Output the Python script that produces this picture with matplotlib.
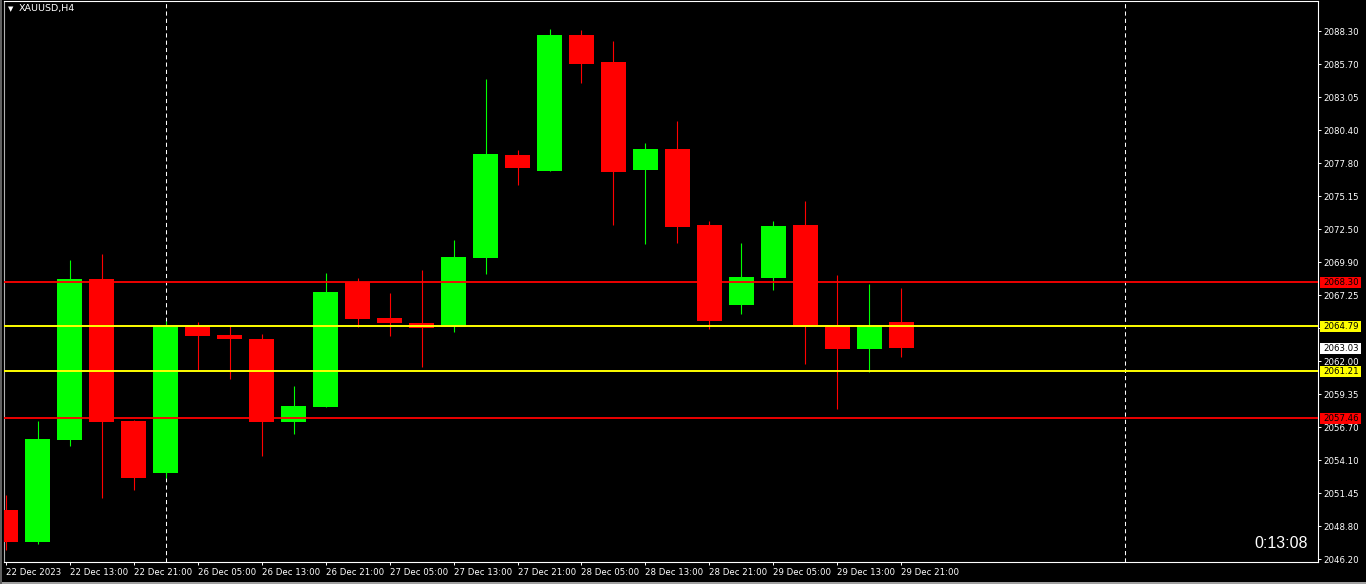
import numpy as np
import matplotlib
matplotlib.use("Agg")
import matplotlib.pyplot as plt
from matplotlib.patches import Rectangle

# ---------------- data ----------------
opens  = [2050.18, 2047.57, 2055.71, 2068.52, 2057.20, 2053.08, 2064.78, 2064.06, 2063.74, 2057.14,
          2058.34, 2068.34, 2065.41, 2065.01, 2064.70, 2070.22, 2078.41, 2077.16, 2087.98, 2085.83,
          2077.24, 2078.89, 2072.83, 2066.47, 2068.63, 2072.83, 2064.86, 2062.97, 2065.09]
highs  = [2051.30, 2057.20, 2070.04, 2070.57, 2057.28, 2065.17, 2065.09, 2064.78, 2064.14, 2059.99,
          2069.00, 2068.63, 2067.41, 2069.24, 2071.63, 2084.47, 2078.81, 2088.46, 2088.38, 2087.50,
          2079.37, 2081.12, 2073.15, 2071.39, 2073.15, 2074.74, 2068.84, 2068.12, 2067.81]
lows   = [2046.99, 2047.42, 2055.23, 2051.08, 2051.72, 2052.68, 2061.27, 2060.57, 2054.43, 2056.19,
          2058.34, 2064.70, 2064.00, 2061.51, 2064.32, 2068.95, 2076.04, 2077.16, 2084.18, 2072.85,
          2071.34, 2071.42, 2064.56, 2065.76, 2067.67, 2061.77, 2058.18, 2061.13, 2062.33]
closes = [2047.57, 2055.76, 2068.52, 2057.14, 2052.68, 2064.70, 2064.00, 2063.76, 2057.14, 2058.40,
          2067.49, 2065.33, 2065.01, 2064.64, 2070.28, 2078.49, 2077.40, 2087.98, 2085.69, 2077.08,
          2078.89, 2072.69, 2065.20, 2068.68, 2072.75, 2064.72, 2062.97, 2064.86, 2063.03]

time_labels = ["22 Dec 2023", "22 Dec 13:00", "22 Dec 21:00", "26 Dec 05:00", "26 Dec 13:00",
               "26 Dec 21:00", "27 Dec 05:00", "27 Dec 13:00", "27 Dec 21:00", "28 Dec 05:00",
               "28 Dec 13:00", "28 Dec 21:00", "29 Dec 05:00", "29 Dec 13:00", "29 Dec 21:00"]
# the 2064.65 tick label is hidden behind the 2064.79 level box in the reference
price_labels = ["2046.20", "2048.80", "2051.45", "2054.10", "2056.70", "2059.35", "2062.00",
                "", "2067.25", "2069.90", "2072.50", "2075.15", "2077.80", "2080.40",
                "2083.05", "2085.70", "2088.30"]
red_levels = [2068.30, 2057.46]
yellow_levels = [2064.79, 2061.21]
current_price = 2063.03
separators = [5, 35]
symbol_label = "XAUUSD,H4"
timer_text = "0:13:08"

# ---------------- figure ----------------
W, H = 1366, 584
fig = plt.figure(figsize=(W / 100, H / 100), dpi=100, facecolor="black")
x0, x1, ytop, ybot = 4, 1318, 1, 562
ax = fig.add_axes([x0 / W, 1 - ybot / H, (x1 - x0) / W, (ybot - ytop) / H])
ax.set_facecolor("black")

GREEN, RED = "#00ff00", "#ff0000"
n = len(opens)
xs = np.arange(n)
body_w = 0.78
for i in range(n):
    o, h, l, c = opens[i], highs[i], lows[i], closes[i]
    col = GREEN if c >= o else RED
    ax.vlines(xs[i], l, h, color=col, lw=0.8, zorder=3)
    lo, hi = min(o, c), max(o, c)
    ax.add_patch(Rectangle((xs[i] - body_w / 2, lo), body_w, max(hi - lo, 0.08),
                           facecolor=col, edgecolor="none", zorder=4))

for lv in red_levels:
    ax.axhline(lv, color=RED, lw=1.3, zorder=5)
for lv in yellow_levels:
    ax.axhline(lv, color="#ffff00", lw=1.4, zorder=5)
for s in separators:
    ax.axvline(s, color="white", lw=0.75, ls=(0, (4, 3)), zorder=2)

ax.set_xlim(-0.05, 41.02)
ax.set_ylim(2046.0, 2090.69)

# ticks
ax.yaxis.tick_right()
ax.set_yticks(np.linspace(2046.20, 2088.30, len(price_labels)))
ax.set_yticklabels(price_labels)
ax.set_xticks(np.arange(0, 2 * len(time_labels), 2))
ax.set_xticklabels(time_labels, ha="left")
ax.tick_params(axis="y", colors="white", labelsize=6.2, length=2.2, width=0.7, pad=1.5,
               direction="out")
ax.tick_params(axis="x", colors="white", labelsize=6.2, length=2.5, width=0.7, pad=1.5,
               direction="out")
for lab in ax.get_yticklabels() + ax.get_xticklabels():
    lab.set_color("white")
for sp in ax.spines.values():
    sp.set_color("white")
    sp.set_linewidth(0.8)
ax.spines["left"].set_color("#b0b0b0")

# price level boxes on axis
ytr = ax.get_yaxis_transform()
box_x0 = (1320 - x0) / (x1 - x0)
box_w = 41 / (x1 - x0)
box_h = 11 / 12.54
for lv, fc in [(red_levels[0], RED), (red_levels[1], RED), (yellow_levels[0], "#ffff00"),
               (yellow_levels[1], "#ffff00"), (current_price, "white")]:
    ax.add_patch(Rectangle((box_x0, lv - box_h / 2), box_w, box_h, transform=ytr,
                           facecolor=fc, edgecolor="none", clip_on=False, zorder=10))
    ax.text(box_x0 + 3 / (x1 - x0), lv, f"{lv:.2f}", transform=ytr, fontsize=6.2,
            color="black", va="center", ha="left", clip_on=False, zorder=11)

# symbol label and timer
fig.text(8 / W, 1 - 9 / H, "\u25bc", color="white", fontsize=5, va="center", ha="left")
fig.text(19 / W, 1 - 9 / H, symbol_label, color="white", fontsize=6.8, va="center", ha="left")
fig.text(1308 / W, 1 - 543 / H, timer_text, color="white", fontsize=11.5,
         family="Liberation Sans", va="center", ha="right")

# window edges
fig.patches.append(Rectangle((0, 0), 1, 2 / H, transform=fig.transFigure,
                             facecolor="#a0a0a0", edgecolor="none"))
fig.patches.append(Rectangle((0, 0), 2 / W, 1, transform=fig.transFigure,
                             facecolor="#606060", edgecolor="none"))

fig.savefig("out.png", dpi=100, facecolor="black")
